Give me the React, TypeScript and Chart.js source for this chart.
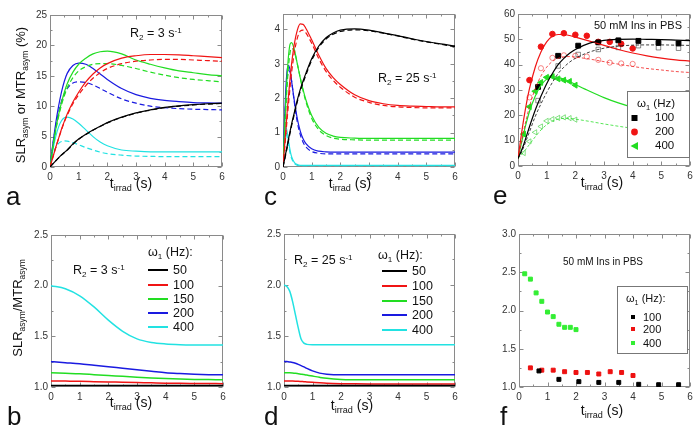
import React, { useEffect, useRef } from 'react';
import { Chart, registerables } from 'chart.js';
Chart.register(...registerables);

const FONT = '"Liberation Sans", Arial, Helvetica, sans-serif';
const BLACK = '#000000';
const RED = '#f01414';
const GREEN = '#22dd22';
const BLUE = '#1a1ae0';
const CYAN = '#22e2e2';

// ---------- Panel a (R2 = 3 s^-1) ----------
const aT = [0, 0.1, 0.2, 0.3, 0.4, 0.5, 0.6, 0.8, 1, 1.25, 1.5, 1.75, 2, 2.5, 3, 3.5, 4, 4.5, 5, 5.5, 6];
const aBlackSolid = [0, 0.5, 1.0, 1.5, 2.0, 2.4, 2.8, 3.8, 4.6, 5.4, 6.1, 6.7, 7.3, 8.2, 8.9, 9.4, 9.8, 10.05, 10.25, 10.4, 10.5];
const aBlackDash = [0, 0.5, 1.0, 1.5, 1.95, 2.35, 2.75, 3.75, 4.55, 5.35, 6.05, 6.65, 7.25, 8.15, 8.85, 9.35, 9.75, 10.0, 10.2, 10.35, 10.45];
const aRedSolid = [0, 1.6, 3.2, 4.7, 6.2, 7.5, 8.7, 10.7, 12.3, 14.0, 15.3, 16.3, 17.0, 17.9, 18.3, 18.5, 18.5, 18.45, 18.3, 18.15, 18.0];
const aRedDash = [0, 1.6, 3.2, 4.7, 6.1, 7.4, 8.5, 10.4, 11.9, 13.4, 14.6, 15.5, 16.2, 17.0, 17.4, 17.6, 17.7, 17.7, 17.6, 17.5, 17.4];
const aGreenSolid = [0, 3.3, 6.2, 8.6, 10.6, 12.3, 13.7, 15.6, 16.9, 17.9, 18.6, 18.95, 19.05, 18.6, 17.6, 16.9, 16.3, 15.8, 15.5, 15.2, 15.0];
const aGreenDash = [0, 3.2, 6.0, 8.3, 10.2, 11.7, 13.0, 14.7, 15.8, 16.5, 16.9, 17.0, 17.0, 16.7, 16.2, 15.6, 15.1, 14.7, 14.4, 14.2, 14.0];
const aBlueSolid = [0, 3.8, 7.2, 10.0, 12.3, 14.1, 15.4, 16.7, 17.1, 16.9, 16.2, 15.3, 14.4, 12.9, 11.9, 11.3, 10.95, 10.75, 10.6, 10.55, 10.5];
const aBlueDash = [0, 3.6, 6.7, 9.0, 10.8, 12.0, 12.9, 13.8, 14.0, 13.9, 13.5, 12.9, 12.3, 11.2, 10.5, 10.0, 9.75, 9.6, 9.5, 9.45, 9.4];
const aCyanSolid = [0, 2.8, 5.0, 6.6, 7.6, 8.1, 8.2, 7.9, 7.2, 6.1, 5.0, 4.1, 3.5, 2.8, 2.6, 2.5, 2.5, 2.5, 2.5, 2.5, 2.5];
const aCyanDash = [0, 1.9, 3.2, 3.9, 4.2, 4.3, 4.25, 4.0, 3.65, 3.2, 2.8, 2.45, 2.2, 1.95, 1.8, 1.75, 1.7, 1.7, 1.7, 1.7, 1.7];

// ---------- Panel c (R2 = 25 s^-1) ----------
const cT = [0, 0.05, 0.1, 0.15, 0.2, 0.25, 0.3, 0.4, 0.5, 0.6, 0.7, 0.8, 1, 1.25, 1.5, 1.75, 2, 2.5, 3, 3.5, 4, 4.5, 5, 5.5, 6];
const cBlackSolid = [0, 0.2, 0.42, 0.63, 0.85, 1.05, 1.25, 1.6, 1.95, 2.25, 2.5, 2.73, 3.15, 3.52, 3.76, 3.9, 3.98, 4.02, 3.98, 3.9, 3.82, 3.73, 3.65, 3.58, 3.52];
const cBlackDash = [0, 0.18, 0.38, 0.58, 0.8, 1.0, 1.2, 1.55, 1.9, 2.2, 2.45, 2.68, 3.1, 3.48, 3.72, 3.86, 3.94, 3.99, 3.96, 3.89, 3.81, 3.72, 3.64, 3.57, 3.5];
const cRedSolid = [0, 0.55, 1.1, 1.65, 2.15, 2.6, 3.0, 3.6, 3.98, 4.16, 4.15, 4.03, 3.7, 3.25, 2.87, 2.6, 2.4, 2.1, 1.93, 1.84, 1.79, 1.77, 1.76, 1.75, 1.75];
const cRedDash = [0, 0.45, 0.95, 1.45, 1.9, 2.35, 2.75, 3.35, 3.75, 3.95, 3.98, 3.9, 3.6, 3.15, 2.78, 2.52, 2.32, 2.03, 1.88, 1.79, 1.75, 1.73, 1.72, 1.72, 1.72];
const cGreenSolid = [0, 1.0, 1.95, 2.75, 3.3, 3.58, 3.62, 3.4, 3.0, 2.6, 2.25, 1.95, 1.5, 1.15, 0.98, 0.9, 0.86, 0.84, 0.83, 0.83, 0.83, 0.83, 0.83, 0.83, 0.83];
const cGreenDash = [0, 0.85, 1.7, 2.45, 3.0, 3.35, 3.45, 3.35, 3.0, 2.6, 2.22, 1.9, 1.42, 1.08, 0.92, 0.84, 0.81, 0.79, 0.78, 0.78, 0.78, 0.78, 0.78, 0.78, 0.78];
const cBlueSolid = [0, 1.3, 2.3, 2.85, 2.95, 2.8, 2.5, 1.9, 1.4, 1.05, 0.82, 0.68, 0.53, 0.46, 0.44, 0.43, 0.43, 0.43, 0.43, 0.43, 0.43, 0.43, 0.43, 0.43, 0.43];
const cBlueDash = [0, 1.05, 2.0, 2.6, 2.8, 2.75, 2.5, 1.85, 1.3, 0.95, 0.72, 0.58, 0.45, 0.4, 0.38, 0.38, 0.38, 0.38, 0.38, 0.38, 0.38, 0.38, 0.38, 0.38, 0.38];
const cCyanSolid = [0, 0.9, 1.17, 1.0, 0.72, 0.47, 0.3, 0.13, 0.07, 0.05, 0.05, 0.05, 0.05, 0.05, 0.05, 0.05, 0.05, 0.05, 0.05, 0.05, 0.05, 0.05, 0.05, 0.05, 0.05];
const cCyanDash = [0, 0.7, 0.95, 0.85, 0.62, 0.4, 0.25, 0.1, 0.05, 0.04, 0.04, 0.04, 0.04, 0.04, 0.04, 0.04, 0.04, 0.04, 0.04, 0.04, 0.04, 0.04, 0.04, 0.04, 0.04];

// ---------- Panel e (50 mM Ins in PBS) ----------
const eT = [0, 0.1, 0.2, 0.3, 0.4, 0.6, 0.8, 1, 1.2, 1.4, 1.6, 1.8, 2, 2.5, 3, 3.5, 4, 4.5, 5, 5.5, 6];
const eBlackSolid = [3, 5.5, 8.5, 12, 15.5, 22, 27.5, 32.5, 36.5, 40, 42.5, 44.5, 46, 48.5, 49.6, 50.0, 50.1, 50.0, 49.9, 49.7, 49.5];
const eBlackDash = [3, 5, 7.5, 10.5, 13.5, 19.5, 24.5, 29, 33, 36.5, 39, 41, 42.5, 45, 46.5, 47.3, 47.7, 47.8, 47.8, 47.7, 47.6];
const eRedSolid = [3, 11, 18.5, 25, 30.5, 39, 45, 49, 51.2, 51.9, 51.9, 51.5, 50.9, 49.3, 47.6, 46.0, 44.6, 43.5, 42.6, 41.9, 41.4];
const eRedDash = [3, 8.5, 14, 19, 23.5, 30.5, 35.5, 39, 41.3, 42.5, 43.1, 43.2, 43.0, 42.2, 41.2, 40.2, 39.3, 38.5, 37.9, 37.3, 36.9];
const eGreenSolid = [3, 8, 13, 17.5, 21.5, 27.5, 31.8, 34.3, 35.2, 35.0, 34.3, 33.3, 32.2, 29.5, 27.0, 24.9, 23.2, 21.9, 20.9, 20.1, 19.6];
const eGreenDash = [3, 4.2, 5.5, 7, 8.5, 11.5, 14.2, 16.3, 17.7, 18.5, 18.8, 18.8, 18.5, 17.6, 16.6, 15.7, 14.9, 14.3, 13.9, 13.6, 13.3];

const e100T = [0.7, 1.4, 2.1, 2.8, 3.5, 4.2, 4.9, 5.6];
const e100Filled = [31.2, 43.5, 47.5, 48.8, 49.6, 49.4, 48.6, 48.4];
const e100Open = [25.8, 39.5, 44.0, 46.0, 46.8, 47.5, 46.7, 46.5];
const e200T = [0.4, 0.8, 1.2, 1.6, 2.0, 2.4, 2.8, 3.2, 3.6, 4.0];
const e200Filled = [33.9, 47.1, 52.1, 52.4, 51.8, 51.4, 49.0, 49.0, 48.2, 46.4];
const e200Open = [27.1, 38.6, 42.7, 43.7, 43.5, 43.2, 41.9, 40.8, 40.5, 40.3];
const e400T = [0.2, 0.4, 0.6, 0.8, 1.0, 1.2, 1.4, 1.6, 1.8, 2.0];
const e400Filled = [12.6, 23.4, 29.5, 33.0, 35.0, 35.3, 34.4, 33.9, 33.4, 31.9];
const e400Open = [5.1, 9.7, 13.3, 15.6, 17.8, 18.5, 19.0, 19.2, 18.9, 18.3];

// ---------- Panel b (ratio, R2 = 3) ----------
const bT = [0, 0.5, 1, 1.5, 2, 2.5, 3, 3.5, 4, 4.5, 5, 5.5, 6];
const b50 = [1.015, 1.015, 1.015, 1.015, 1.015, 1.015, 1.015, 1.015, 1.015, 1.015, 1.015, 1.015, 1.015];
const b100 = [1.06, 1.058, 1.056, 1.053, 1.05, 1.047, 1.044, 1.041, 1.038, 1.036, 1.035, 1.034, 1.033];
const b150 = [1.14, 1.135, 1.13, 1.122, 1.114, 1.105, 1.097, 1.09, 1.084, 1.079, 1.075, 1.073, 1.071];
const b200 = [1.25, 1.24, 1.23, 1.215, 1.2, 1.185, 1.17, 1.155, 1.14, 1.132, 1.126, 1.122, 1.12];
const b400 = [2.0, 1.97, 1.9, 1.79, 1.66, 1.55, 1.475, 1.44, 1.425, 1.418, 1.415, 1.414, 1.414];

// ---------- Panel d (ratio, R2 = 25) ----------
const dT = [0, 0.1, 0.2, 0.3, 0.4, 0.5, 0.6, 0.7, 0.8, 1, 1.25, 1.5, 2, 2.5, 3, 4, 5, 6];
const d50 = [1.015, 1.015, 1.015, 1.015, 1.015, 1.015, 1.015, 1.015, 1.015, 1.015, 1.015, 1.015, 1.015, 1.015, 1.015, 1.015, 1.015, 1.015];
const d100 = [1.06, 1.06, 1.059, 1.058, 1.057, 1.056, 1.054, 1.052, 1.05, 1.046, 1.041, 1.037, 1.033, 1.031, 1.03, 1.03, 1.03, 1.03];
const d150 = [1.14, 1.14, 1.139, 1.137, 1.134, 1.13, 1.126, 1.122, 1.117, 1.107, 1.095, 1.085, 1.074, 1.071, 1.07, 1.07, 1.07, 1.07];
const d200 = [1.25, 1.249, 1.245, 1.24, 1.232, 1.222, 1.21, 1.197, 1.183, 1.158, 1.136, 1.126, 1.12, 1.12, 1.12, 1.12, 1.12, 1.12];
const d400 = [2.0, 1.985, 1.94, 1.84, 1.71, 1.58, 1.47, 1.43, 1.418, 1.414, 1.414, 1.414, 1.414, 1.414, 1.414, 1.414, 1.414, 1.414];

// ---------- Panel f (measured ratio) ----------
const f100 = [1.21, 1.10, 1.07, 1.06, 1.06, 1.035, 1.03, 1.03];
const f200 = [1.25, 1.22, 1.22, 1.20, 1.19, 1.19, 1.17, 1.20, 1.19, 1.15];
const f400 = [2.48, 2.41, 2.23, 2.12, 1.98, 1.92, 1.82, 1.78, 1.78, 1.75];

const xTicks = [0, 1, 2, 3, 4, 5, 6];

// ---------- helpers ----------
const pts = (t: number[], v: number[]) => t.map((x, i) => ({ x, y: v[i] }));

const curve = (t: number[], v: number[], color: string, dashed = false, width = 1.2) => ({
  data: pts(t, v),
  borderColor: color,
  backgroundColor: color,
  borderWidth: width,
  borderDash: dashed ? [5, 3] : [],
  pointRadius: 0,
  fill: false,
  cubicInterpolationMode: 'monotone',
});

const marks = (t: number[], v: number[], color: string, style: string, radius: number, open = false, rotation = 0) => ({
  data: pts(t, v),
  showLine: false,
  borderColor: color,
  backgroundColor: open ? 'rgba(0,0,0,0)' : color,
  pointStyle: style,
  pointRadius: radius,
  pointBorderWidth: 1,
  pointRotation: rotation,
});

const framePlugin = {
  id: 'frame',
  beforeDatasetsDraw(chart: any) {
    const { ctx, chartArea } = chart;
    const l = Math.round(chartArea.left) + 0.5;
    const t = Math.round(chartArea.top) + 0.5;
    const r = Math.round(chartArea.right) - 0.5;
    const b = Math.round(chartArea.bottom) - 0.5;
    const xs = chart.scales.x;
    const ys = chart.scales.y;
    ctx.save();
    ctx.strokeStyle = '#8a8a8a';
    ctx.lineWidth = 1;
    ctx.strokeRect(l, t, r - l, b - t);
    ctx.beginPath();
    const dx = (v: number, len: number) => {
      const p = Math.round(xs.getPixelForValue(v)) + 0.5;
      ctx.moveTo(p, b); ctx.lineTo(p, b - len);
      ctx.moveTo(p, t); ctx.lineTo(p, t + len);
    };
    const dy = (v: number, len: number) => {
      const p = Math.round(ys.getPixelForValue(v)) + 0.5;
      ctx.moveTo(l, p); ctx.lineTo(l + len, p);
      ctx.moveTo(r, p); ctx.lineTo(r - len, p);
    };
    const xv = xs.ticks.map((k: any) => k.value);
    const yv = ys.ticks.map((k: any) => k.value);
    xv.forEach((v: number) => dx(v, 4));
    for (let i = 0; i < xv.length - 1; i++) dx((xv[i] + xv[i + 1]) / 2, 2);
    yv.forEach((v: number) => dy(v, 4));
    for (let i = 0; i < yv.length - 1; i++) dy((yv[i] + yv[i + 1]) / 2, 2);
    ctx.stroke();
    ctx.restore();
  },
};

type Box = { L: number; T: number; R: number; B: number };
const PADL = 40, PADT = 10, PADR = 8, PADB = 20;

function Panel({ box, datasets, yMin, yMax, yStep, yDec }: { box: Box; datasets: any[]; yMin: number; yMax: number; yStep: number; yDec: number }) {
  const ref = useRef<HTMLCanvasElement>(null);
  const w = box.R - box.L + PADL + PADR;
  const h = box.B - box.T + PADT + PADB;
  useEffect(() => {
    if (!ref.current) return;
    const tickFont = { family: FONT, size: 10 };
    const chart = new Chart(ref.current, {
      type: 'line',
      data: { datasets },
      options: {
        responsive: false,
        animation: false,
        devicePixelRatio: 1,
        layout: { padding: { top: PADT, right: PADR, left: 0, bottom: 0 } },
        plugins: { legend: { display: false }, tooltip: { enabled: false } },
        scales: {
          x: {
            type: 'linear', min: 0, max: 6,
            grid: { display: false, drawTicks: false },
            border: { display: false },
            ticks: { stepSize: 1, includeBounds: false, padding: 4, color: '#333', font: tickFont, maxRotation: 0 },
            afterBuildTicks: (s: any) => { s.ticks = xTicks.map((v) => ({ value: v })); },
            afterFit: (s: any) => { s.height = PADB; },
          },
          y: {
            type: 'linear', min: yMin, max: yMax,
            grid: { display: false, drawTicks: false },
            border: { display: false },
            ticks: {
              stepSize: yStep, includeBounds: false, padding: 3, color: '#333', font: tickFont,
              callback: (v: any) => Number(v).toFixed(yDec),
            },
            afterFit: (s: any) => { s.width = PADL; },
          },
        },
      } as any,
      plugins: [framePlugin],
    });
    return () => chart.destroy();
  }, []);
  return (
    <canvas
      ref={ref}
      width={w}
      height={h}
      style={{ position: 'absolute', left: box.L - PADL, top: box.T - PADT, width: w, height: h }}
    />
  );
}

const Sub = ({ children, size = '0.65em' }: any) => (
  <span style={{ fontSize: size, position: 'relative', top: '0.35em' }}>{children}</span>
);
const Sup = ({ children }: any) => (
  <span style={{ fontSize: '0.65em', position: 'relative', top: '-0.55em' }}>{children}</span>
);

const Txt = ({ x, y, size = 13, center = false, children }: any) => (
  <div
    style={{
      position: 'absolute', left: x, top: y, fontSize: size, lineHeight: 1, whiteSpace: 'nowrap',
      transform: center ? 'translate(-50%,-50%)' : 'translate(0,-50%)', color: '#111',
    }}
  >
    {children}
  </div>
);

const VTxt = ({ x, y, size = 13, children }: any) => (
  <div
    style={{
      position: 'absolute', left: x, top: y, fontSize: size, lineHeight: 1, whiteSpace: 'nowrap',
      transform: 'translate(-50%,-50%) rotate(-90deg)', color: '#111',
    }}
  >
    {children}
  </div>
);

const XTitle = ({ x, y }: any) => (
  <Txt x={x} y={y} size={14} center>
    t<Sub>irrad</Sub> (s)
  </Txt>
);

const LineKey = ({ x1, x2, y, color }: any) => (
  <div style={{ position: 'absolute', left: x1, top: y - 1, width: x2 - x1, height: 2, background: color }} />
);

const boxA: Box = { L: 50, T: 15, R: 222, B: 167 };
const boxC: Box = { L: 283, T: 14, R: 455, B: 167 };
const boxE: Box = { L: 518, T: 14, R: 690, B: 166 };
const boxB: Box = { L: 51, T: 235, R: 223, B: 387 };
const boxD: Box = { L: 284, T: 234, R: 455, B: 387 };
const boxF: Box = { L: 519, T: 234, R: 690, B: 387 };

export default function App() {
  useEffect(() => {
    document.body.style.margin = '0';
  }, []);

  const dsA = [
    curve(aT, aBlackDash, BLACK, true), curve(aT, aBlackSolid, BLACK),
    curve(aT, aRedDash, RED, true), curve(aT, aRedSolid, RED),
    curve(aT, aGreenDash, GREEN, true), curve(aT, aGreenSolid, GREEN),
    curve(aT, aBlueDash, BLUE, true), curve(aT, aBlueSolid, BLUE),
    curve(aT, aCyanDash, CYAN, true), curve(aT, aCyanSolid, CYAN),
  ];
  const dsC = [
    curve(cT, cBlackDash, BLACK, true), curve(cT, cBlackSolid, BLACK),
    curve(cT, cRedDash, RED, true), curve(cT, cRedSolid, RED),
    curve(cT, cGreenDash, GREEN, true), curve(cT, cGreenSolid, GREEN),
    curve(cT, cBlueDash, BLUE, true), curve(cT, cBlueSolid, BLUE),
    curve(cT, cCyanDash, CYAN, true), curve(cT, cCyanSolid, CYAN),
  ];
  const dsE = [
    { ...curve(eT, eBlackDash, 'rgba(0,0,0,0.75)', true, 1), borderDash: [3, 2] },
    curve(eT, eBlackSolid, BLACK),
    { ...curve(eT, eRedDash, 'rgba(240,20,20,0.75)', true, 1), borderDash: [3, 2] },
    curve(eT, eRedSolid, RED),
    { ...curve(eT, eGreenDash, 'rgba(34,221,34,0.75)', true, 1), borderDash: [3, 2] },
    curve(eT, eGreenSolid, GREEN),
    marks(e100T, e100Open, 'rgba(0,0,0,0.45)', 'rect', 3.2, true),
    marks(e200T, e200Open, 'rgba(240,20,20,0.5)', 'circle', 2.6, true),
    marks(e400T, e400Open, 'rgba(34,200,34,0.55)', 'triangle', 3, true, -90),
    marks(e100T, e100Filled, BLACK, 'rect', 3.4),
    marks(e200T, e200Filled, RED, 'circle', 2.8),
    marks(e400T, e400Filled, GREEN, 'triangle', 3.4, false, -90),
  ];
  const dsB = [
    curve(bT, b50, BLACK, false, 1.5), curve(bT, b100, RED, false, 1.5), curve(bT, b150, GREEN, false, 1.5),
    curve(bT, b200, BLUE, false, 1.5), curve(bT, b400, CYAN, false, 1.5),
  ];
  const dsD = [
    curve(dT, d50, BLACK, false, 1.5), curve(dT, d100, RED, false, 1.5), curve(dT, d150, GREEN, false, 1.5),
    curve(dT, d200, BLUE, false, 1.5), curve(dT, d400, CYAN, false, 1.5),
  ];
  const dsF = [
    marks(e100T, f100, BLACK, 'rect', 2.8),
    marks(e200T, f200, '#ee1111', 'rect', 2.8),
    marks(e400T, f400, '#33ee33', 'rect', 2.8),
  ];

  const legendRows = [
    { label: '50', color: BLACK },
    { label: '100', color: RED },
    { label: '150', color: GREEN },
    { label: '200', color: BLUE },
    { label: '400', color: CYAN },
  ];
  const bRowsY = [270, 284.5, 298.5, 312.5, 327];
  const dRowsY = [271, 286, 300.5, 315, 330];

  return (
    <div style={{ position: 'absolute', left: 0, top: 0, width: 700, height: 432, background: '#fff', fontFamily: FONT, overflow: 'hidden' }}>
      <Panel box={boxA} datasets={dsA} yMin={0} yMax={25} yStep={5} yDec={0} />
      <Panel box={boxC} datasets={dsC} yMin={0} yMax={4.45} yStep={1} yDec={0} />
      <Panel box={boxE} datasets={dsE} yMin={0} yMax={60} yStep={10} yDec={0} />
      <Panel box={boxB} datasets={dsB} yMin={1} yMax={2.5} yStep={0.5} yDec={1} />
      <Panel box={boxD} datasets={dsD} yMin={1} yMax={2.5} yStep={0.5} yDec={1} />
      <Panel box={boxF} datasets={dsF} yMin={1} yMax={3} yStep={0.5} yDec={1} />

      {/* panel a */}
      <VTxt x={20} y={95} size={13}>
        SLR<Sub>asym</Sub> or MTR<Sub>asym</Sub> (%)
      </VTxt>
      <Txt x={130} y={33} size={12.5}>R<Sub>2</Sub> = 3 s<Sup>-1</Sup></Txt>
      <XTitle x={131} y={183} />
      <Txt x={6} y={196} size={26}>a</Txt>

      {/* panel c */}
      <Txt x={378} y={78} size={12.5}>R<Sub>2</Sub> = 25 s<Sup>-1</Sup></Txt>
      <XTitle x={350} y={183} />
      <Txt x={264} y={196} size={26}>c</Txt>

      {/* panel e */}
      <Txt x={594} y={25} size={11}>50 mM Ins in PBS</Txt>
      <div style={{ position: 'absolute', left: 627, top: 91, width: 61, height: 65, border: '1px solid #777', background: '#fff' }} />
      <Txt x={637} y={104} size={11.5}>ω<Sub>1</Sub> (Hz)</Txt>
      <svg style={{ position: 'absolute', left: 628, top: 110 }} width={14} height={42}>
        <rect x={3.5} y={5} width={6} height={6} fill={BLACK} />
        <circle cx={6.5} cy={22} r={3.4} fill={RED} />
        <polygon points="2.5,36 10,32 10,40" fill={GREEN} />
      </svg>
      <Txt x={655} y={118} size={11.5}>100</Txt>
      <Txt x={655} y={132} size={11.5}>200</Txt>
      <Txt x={655} y={146} size={11.5}>400</Txt>
      <XTitle x={602} y={182} />
      <Txt x={493} y={195} size={26}>e</Txt>

      {/* panel b */}
      <VTxt x={17} y={308} size={13}>
        SLR<Sub>asym</Sub>/MTR<Sub>asym</Sub>
      </VTxt>
      <Txt x={73} y={270} size={12.5}>R<Sub>2</Sub> = 3 s<Sup>-1</Sup></Txt>
      <Txt x={148} y={252} size={12.5}>ω<Sub>1</Sub> (Hz):</Txt>
      {legendRows.map((r, i) => (
        <React.Fragment key={'b' + r.label}>
          <LineKey x1={148} x2={168} y={bRowsY[i]} color={r.color} />
          <Txt x={173} y={bRowsY[i]} size={12.5}>{r.label}</Txt>
        </React.Fragment>
      ))}
      <XTitle x={131} y={402} />
      <Txt x={7} y={416} size={26}>b</Txt>

      {/* panel d */}
      <Txt x={294} y={260} size={12.5}>R<Sub>2</Sub> = 25 s<Sup>-1</Sup></Txt>
      <Txt x={378} y={255} size={12.5}>ω<Sub>1</Sub> (Hz):</Txt>
      {legendRows.map((r, i) => (
        <React.Fragment key={'d' + r.label}>
          <LineKey x1={382} x2={407} y={dRowsY[i]} color={r.color} />
          <Txt x={412} y={dRowsY[i]} size={12.5}>{r.label}</Txt>
        </React.Fragment>
      ))}
      <XTitle x={352} y={405} />
      <Txt x={264} y={416} size={26}>d</Txt>

      {/* panel f */}
      <Txt x={563} y={262} size={10}>50 mM Ins in PBS</Txt>
      <div style={{ position: 'absolute', left: 617, top: 286, width: 69, height: 66, border: '1px solid #777', background: '#fff' }} />
      <Txt x={626} y={299} size={11}>ω<Sub>1</Sub> (Hz):</Txt>
      <svg style={{ position: 'absolute', left: 629, top: 311 }} width={10} height={38}>
        <rect x={2} y={4} width={4} height={4} fill={BLACK} />
        <rect x={2} y={16} width={4} height={4} fill="#ee1111" />
        <rect x={2} y={30} width={4} height={4} fill="#33ee33" />
      </svg>
      <Txt x={643} y={317} size={11}>100</Txt>
      <Txt x={643} y={329} size={11}>200</Txt>
      <Txt x={643} y={343} size={11}>400</Txt>
      <XTitle x={602} y={410} />
      <Txt x={500} y={416} size={26}>f</Txt>
    </div>
  );
}
